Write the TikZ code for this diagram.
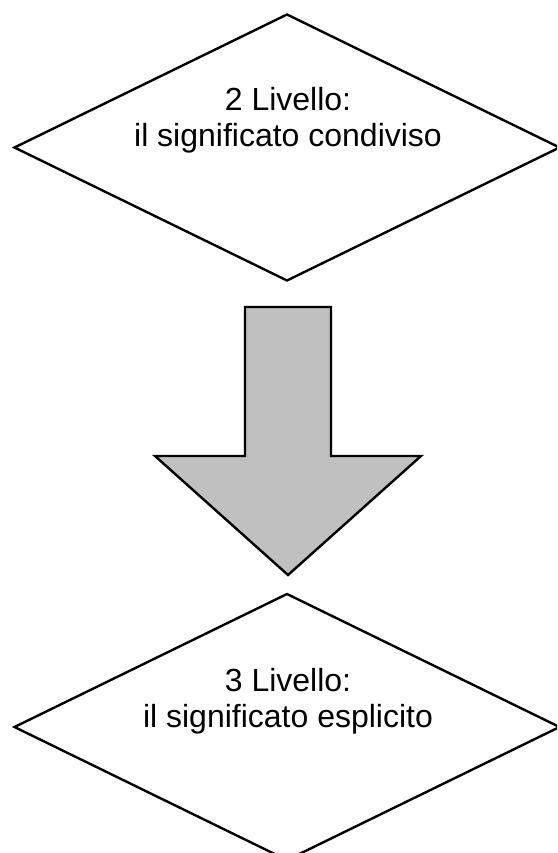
\documentclass[tikz,border=0pt]{standalone}
\usepackage{fontspec}
\setmainfont{Liberation Sans}
\usetikzlibrary{shapes.geometric}
\begin{document}
\begin{tikzpicture}[x=1pt,y=-1pt,line join=miter,
  lev/.style={diamond,draw=black,line width=2.4pt,inner sep=0pt,
    minimum width=546pt,minimum height=267pt,aspect=2.045},
  txt/.style={anchor=base,inner sep=0pt,font=\fontsize{32pt}{36pt}\selectfont},
  bigarrow/.style={draw=black,line width=2.4pt,fill={rgb,255:red,192;green,192;blue,192}}]
\clip (0,0) rectangle (557,853);
\node[lev] (d2) at (287,147.5) {};
\node[txt] (t2a) at (288,111) {2 Livello:};
\node[txt] (t2b) at (288,147) {il significato condiviso};
\draw[bigarrow] (245,307) -- (331,307) -- (331,456) -- (421,456) -- (288,575)
  -- (155,456) -- (245,456) -- cycle;
\node[lev] (d3) at (287,727) {};
\node[txt] (t3a) at (288,691) {3 Livello:};
\node[txt] (t3b) at (288,727) {il significato esplicito};
\end{tikzpicture}
\end{document}
